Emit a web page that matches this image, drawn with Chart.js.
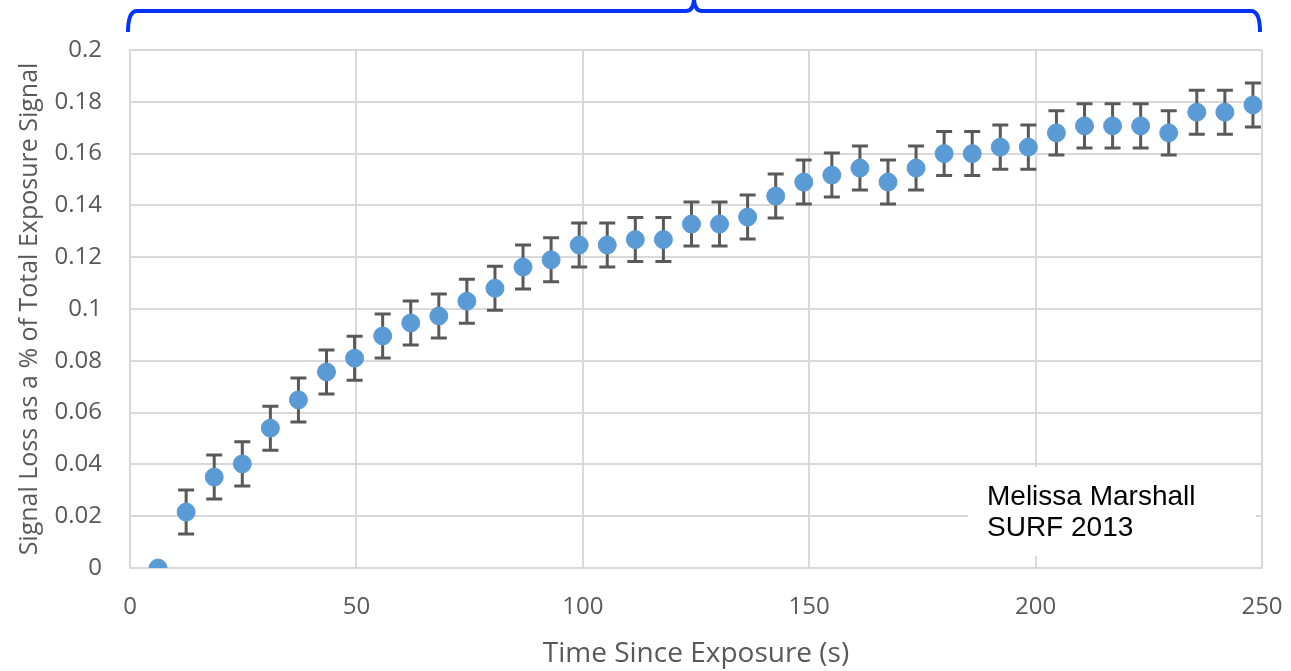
<!DOCTYPE html>
<html>
<head>
<meta charset="utf-8">
<script src="https://cdn.jsdelivr.net/npm/chart.js@4/dist/chart.umd.min.js"></script>
<style>
  body { margin: 0; background: #fff; }
  canvas { display: block; }
</style>
</head>
<body>
<canvas id="lossChart" width="1291" height="671"></canvas>
<script>
// time since exposure (s)
const times = [6.2, 12.4, 18.6, 24.8, 31.0, 37.2, 43.4, 49.6, 55.8, 62.0,
               68.2, 74.4, 80.6, 86.8, 93.0, 99.2, 105.4, 111.6, 117.8, 124.0,
               130.2, 136.4, 142.6, 148.8, 155.0, 161.2, 167.4, 173.6, 179.8, 186.0,
               192.2, 198.4, 204.6, 210.8, 217.0, 223.2, 229.4, 235.6, 241.8, 248.0];
// signal loss fraction
const loss = [0, 0.0216, 0.0351, 0.0402, 0.054, 0.0649, 0.0757, 0.081, 0.0896, 0.0946,
              0.0973, 0.103, 0.108, 0.1162, 0.119, 0.1247, 0.1247, 0.1268, 0.1268, 0.1328,
              0.1328, 0.1355, 0.1436, 0.149, 0.1517, 0.1544, 0.149, 0.1544, 0.16, 0.16,
              0.1625, 0.1625, 0.168, 0.1707, 0.1707, 0.1707, 0.168, 0.176, 0.176, 0.1788];
// error bar half-widths
const errs = [0, 0.0085, 0.0085, 0.0085, 0.0085, 0.0085, 0.0085, 0.0085, 0.0085, 0.0085,
              0.0085, 0.0085, 0.0085, 0.0085, 0.0085, 0.0085, 0.0085, 0.0085, 0.0085, 0.0085,
              0.0085, 0.0085, 0.0085, 0.0085, 0.0085, 0.0085, 0.0085, 0.0085, 0.0085, 0.0085,
              0.0085, 0.0085, 0.0085, 0.0085, 0.0085, 0.0085, 0.0085, 0.0085, 0.0085, 0.0085];
const xTicks = [0, 50, 100, 150, 200, 250];
const yTicks = [0, 0.02, 0.04, 0.06, 0.08, 0.1, 0.12, 0.14, 0.16, 0.18, 0.2];

const points = times.map((t, i) => ({ x: t, y: loss[i] }));

const fam = '"Open Sans", "Noto Sans", sans-serif';
const axisFont = { family: fam, size: 24 };
const gridColor = '#d9d9d9';

// error bars drawn under the markers
const errorBars = {
  id: 'errorBars',
  beforeDatasetsDraw(chart) {
    const { ctx, scales: { x, y } } = chart;
    ctx.save();
    ctx.strokeStyle = '#595959';
    ctx.lineWidth = 3;
    points.forEach((p, i) => {
      if (!errs[i]) return;
      const px = x.getPixelForValue(p.x);
      const top = y.getPixelForValue(p.y + errs[i]);
      const bot = y.getPixelForValue(p.y - errs[i]);
      ctx.beginPath();
      ctx.moveTo(px, top); ctx.lineTo(px, bot);
      ctx.moveTo(px - 8, top); ctx.lineTo(px + 8, top);
      ctx.moveTo(px - 8, bot); ctx.lineTo(px + 8, bot);
      ctx.stroke();
    });
    ctx.restore();
  }
};

// white credit box and blue brace on top
const decorations = {
  id: 'decorations',
  beforeDatasetsDraw(chart) {
    const { ctx, chartArea: a } = chart;
    ctx.save();
    ctx.fillStyle = '#fff';
    ctx.fillRect(a.right - 294, a.bottom - 101, 288, 89);
    ctx.fillStyle = '#000';
    ctx.font = '28px "Liberation Sans", Arial, sans-serif';
    ctx.textBaseline = 'alphabetic';
    ctx.fillText('Melissa Marshall', a.right - 275, a.bottom - 63);
    ctx.fillText('SURF 2013', a.right - 275, a.bottom - 32);
    ctx.restore();
  },
  afterDraw(chart) {
    const { ctx, chartArea: a } = chart;
    const l = a.left - 2, r = a.right - 2, mid = (a.left + a.right) / 2 - 2;
    const yTop = 11, yEnd = 32;
    ctx.save();
    ctx.strokeStyle = '#0033ff';
    ctx.lineWidth = 4;
    ctx.lineJoin = 'round';
    ctx.beginPath();
    ctx.moveTo(l, yEnd);
    ctx.quadraticCurveTo(l, yTop, l + 9, yTop);
    ctx.lineTo(mid - 8, yTop);
    ctx.quadraticCurveTo(mid - 1, yTop, mid, 0);
    ctx.quadraticCurveTo(mid + 1, yTop, mid + 8, yTop);
    ctx.lineTo(r - 9, yTop);
    ctx.quadraticCurveTo(r, yTop, r, yEnd);
    ctx.stroke();
    ctx.restore();
  }
};

new Chart(document.getElementById('lossChart'), {
  type: 'scatter',
  data: {
    datasets: [{
      label: 'Signal Loss',
      data: points,
      backgroundColor: '#5b9bd5',
      borderColor: '#5b9bd5',
      pointRadius: 9,
      pointHoverRadius: 9
    }]
  },
  options: {
    responsive: false,
    animation: false,
    layout: { padding: { left: 0, top: 50, right: 29, bottom: 0 } },
    plugins: {
      legend: { display: false },
      tooltip: { enabled: false }
    },
    scales: {
      x: {
        type: 'linear',
        min: 0, max: 250,
        afterFit(s) { s.height = 103; s.paddingLeft = 0; s.paddingRight = 0; },
        afterBuildTicks(s) { s.ticks = xTicks.map(v => ({ value: v })); },
        grid: { color: gridColor, lineWidth: 2, drawTicks: false },
        border: { color: gridColor, width: 2 },
        ticks: { color: '#595959', font: axisFont, padding: 25 },
        title: {
          display: true,
          text: 'Time Since Exposure (s)',
          color: '#595959',
          font: { family: fam, size: 28 },
          padding: { top: 0, bottom: 0 }
        }
      },
      y: {
        min: 0, max: 0.2,
        afterFit(s) { s.width = 130; s.paddingTop = 0; s.paddingBottom = 0; },
        afterBuildTicks(s) { s.ticks = yTicks.map(v => ({ value: v })); },
        grid: { color: gridColor, lineWidth: 2, drawTicks: false },
        border: { color: gridColor, width: 2 },
        ticks: {
          color: '#595959', font: axisFont, padding: 28,
          callback: v => String(+v.toFixed(2))
        },
        title: {
          display: true,
          text: 'Signal Loss as a % of Total Exposure Signal',
          color: '#595959',
          font: { family: fam, size: 25 },
          padding: { top: 15, bottom: 0 }
        }
      }
    }
  },
  plugins: [errorBars, decorations]
});
</script>
</body>
</html>
